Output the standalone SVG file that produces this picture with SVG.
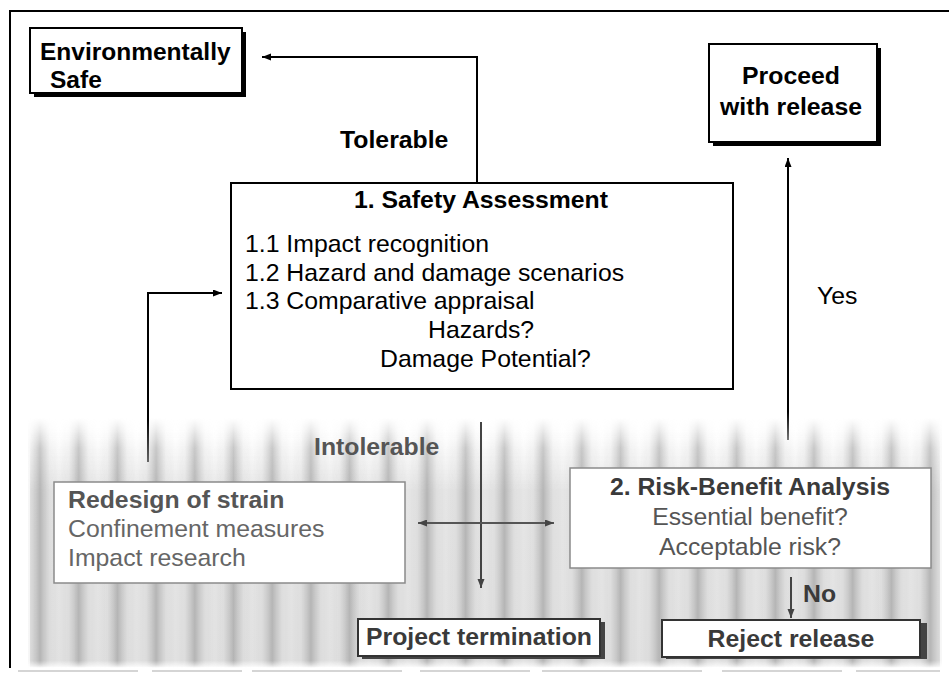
<svg xmlns="http://www.w3.org/2000/svg" width="949" height="679" viewBox="0 0 949 679">
<style>
  text { font-family: "Liberation Sans", Arial, sans-serif; font-size: 24.8px; }
  .b { font-weight: bold; }
  .blk { fill: #000; }
  .g1 { fill: #3a3a3a; }
  .g2 { fill: #555; }
  .g3 { fill: #666; }
  .box { fill: #fff; stroke: #000; stroke-width: 2; }
  .gbox { fill: #fff; stroke: #8a8a8a; stroke-width: 1.5; }
  .dbox { fill: #fff; stroke: #333; stroke-width: 2; }
  .shadow { fill: #000; }
  .gshadow { fill: #444; }
  .conn { fill: none; stroke-width: 2; }
</style>
<defs>
  <marker id="ah" markerUnits="userSpaceOnUse" markerWidth="10" markerHeight="8" refX="9" refY="3.5" orient="auto">
    <path d="M0,0 L9,3.5 L0,7 z" fill="#000"/>
  </marker>
  <marker id="ahg" markerUnits="userSpaceOnUse" markerWidth="10" markerHeight="8" refX="9" refY="3.5" orient="auto">
    <path d="M0,0 L9,3.5 L0,7 z" fill="#444"/>
  </marker>
  <marker id="ahgs" markerUnits="userSpaceOnUse" markerWidth="10" markerHeight="8" refX="0" refY="3.5" orient="auto">
    <path d="M9,0 L0,3.5 L9,7 z" fill="#444"/>
  </marker>
  <linearGradient id="sg" x1="0" y1="0" x2="1" y2="0">
    <stop offset="0" stop-color="#b8b8b8" stop-opacity="0"/>
    <stop offset="0.25" stop-color="#b8b8b8" stop-opacity="0.15"/>
    <stop offset="0.5" stop-color="#b0b0b0" stop-opacity="0.9"/>
    <stop offset="0.75" stop-color="#b8b8b8" stop-opacity="0.15"/>
    <stop offset="1" stop-color="#b8b8b8" stop-opacity="0"/>
  </linearGradient>
  <pattern id="stripes" patternUnits="userSpaceOnUse" x="20.65" y="0" width="38.7" height="20">
    <rect x="0" y="0" width="38.7" height="20" fill="url(#sg)"/>
  </pattern>
  <linearGradient id="fadeV" gradientUnits="userSpaceOnUse" x1="0" y1="418" x2="0" y2="668">
    <stop offset="0" stop-color="#fff" stop-opacity="0"/>
    <stop offset="0.12" stop-color="#fff" stop-opacity="0.75"/>
    <stop offset="0.3" stop-color="#fff" stop-opacity="1"/>
    <stop offset="0.97" stop-color="#fff" stop-opacity="1"/>
    <stop offset="1" stop-color="#fff" stop-opacity="0"/>
  </linearGradient>
  <mask id="fadeMask" maskUnits="userSpaceOnUse" x="0" y="410" width="949" height="265">
    <rect x="28" y="418" width="914" height="250" fill="url(#fadeV)"/>
  </mask>
  <linearGradient id="baseV" gradientUnits="userSpaceOnUse" x1="0" y1="430" x2="0" y2="668">
    <stop offset="0" stop-color="#e6e6e6" stop-opacity="0"/>
    <stop offset="0.25" stop-color="#e6e6e6" stop-opacity="1"/>
    <stop offset="1" stop-color="#e2e2e2" stop-opacity="1"/>
  </linearGradient>
  <linearGradient id="connV1" gradientUnits="userSpaceOnUse" x1="0" y1="158" x2="0" y2="440">
    <stop offset="0" stop-color="#000"/>
    <stop offset="0.9" stop-color="#000"/>
    <stop offset="1" stop-color="#777"/>
  </linearGradient>
  <linearGradient id="connV2" gradientUnits="userSpaceOnUse" x1="0" y1="293" x2="0" y2="462">
    <stop offset="0" stop-color="#000"/>
    <stop offset="0.75" stop-color="#000"/>
    <stop offset="1" stop-color="#666"/>
  </linearGradient>
</defs>

<rect x="0" y="0" width="949" height="679" fill="#fff"/>

<!-- frame -->
<g id="frame">
  <path d="M10,668 V11 H949" fill="none" stroke="#000" stroke-width="2"/>
  <path d="M18,671 H940" fill="none" stroke="#c8c8c8" stroke-width="1.5" stroke-dasharray="120 14 90 10 150 18 110 12 160 20"/>
</g>

<!-- shaded band -->
<g id="shading">
  <rect x="30" y="430" width="910" height="237" fill="url(#baseV)" mask="url(#fadeMask)"/>
  <rect x="28" y="418" width="914" height="250" fill="url(#stripes)" mask="url(#fadeMask)"/>
</g>

<!-- connectors -->
<g id="connectors">
  <path class="conn" d="M477,183 V57 H262" stroke="#000" marker-end="url(#ah)"/>
  <path class="conn" d="M788,440 V158" stroke="url(#connV1)" marker-end="url(#ah)"/>
  <path class="conn" d="M148,462 V293 H222" stroke="url(#connV2)" marker-end="url(#ah)"/>
  <path class="conn" d="M481,422 V588" stroke="#444" marker-end="url(#ahg)"/>
  <path class="conn" d="M418,523 H554" stroke="#555" marker-start="url(#ahgs)" marker-end="url(#ahg)"/>
  <path class="conn" d="M791,577 V618" stroke="#444" marker-end="url(#ahg)"/>
</g>

<!-- labels -->
<g id="labels">
  <text class="b blk" x="340" y="148">Tolerable</text>
  <text class="blk" x="817" y="304">Yes</text>
  <text class="b g2" x="314" y="455">Intolerable</text>
  <text class="b g1" x="803" y="602">No</text>
</g>

<g id="env-safe">
  <rect class="shadow" x="34" y="32" width="212" height="65"/>
  <rect class="box" x="30" y="28" width="212" height="65"/>
  <text class="b blk" x="40" y="60" style="font-size:24.5px">Environmentally</text>
  <text class="b blk" x="50" y="88" style="font-size:24.5px">Safe</text>
</g>

<g id="proceed">
  <rect class="shadow" x="713" y="48" width="168" height="98"/>
  <rect class="box" x="709" y="44" width="168" height="98"/>
  <text class="b blk" x="791" y="84" text-anchor="middle">Proceed</text>
  <text class="b blk" x="791" y="115" text-anchor="middle">with release</text>
</g>

<g id="safety">
  <rect class="box" x="231" y="183" width="502" height="206"/>
  <text class="b blk" x="481" y="208" text-anchor="middle">1. Safety Assessment</text>
  <text class="blk" x="245" y="252">1.1 Impact recognition</text>
  <text class="blk" x="245" y="281">1.2 Hazard and damage scenarios</text>
  <text class="blk" x="245" y="309">1.3 Comparative appraisal</text>
  <text class="blk" x="428" y="338">Hazards?</text>
  <text class="blk" x="380" y="367">Damage Potential?</text>
</g>

<g id="redesign">
  <rect class="gbox" x="54" y="482" width="351" height="101"/>
  <text class="b g2" x="68" y="508">Redesign of strain</text>
  <text class="g3" x="68" y="537">Confinement measures</text>
  <text class="g3" x="68" y="566">Impact research</text>
</g>

<g id="risk-benefit">
  <rect class="gbox" x="570" y="468" width="361" height="100"/>
  <text class="b g1" x="750" y="495" text-anchor="middle">2. Risk-Benefit Analysis</text>
  <text class="g2" x="750" y="525" text-anchor="middle">Essential benefit?</text>
  <text class="g2" x="750" y="555" text-anchor="middle">Acceptable risk?</text>
</g>

<g id="project-termination">
  <rect class="gshadow" x="362" y="622" width="243" height="37"/>
  <rect class="dbox" x="358" y="619" width="242" height="37"/>
  <text class="b g1" x="479" y="645" text-anchor="middle">Project termination</text>
</g>

<g id="reject-release">
  <rect class="gshadow" x="666" y="623" width="261" height="36"/>
  <rect class="dbox" x="662" y="620" width="258" height="37"/>
  <text class="b g1" x="791" y="647" text-anchor="middle">Reject release</text>
</g>
</svg>
